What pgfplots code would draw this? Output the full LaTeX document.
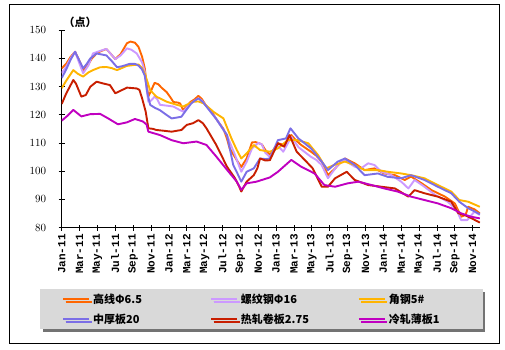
\documentclass[border=0pt]{standalone}
\usepackage{fontspec}
\usepackage{pgfplots}
\pgfplotsset{compat=1.18}
\usetikzlibrary{shadows}
\setmainfont{Liberation Serif}
\newfontfamily\monof{Liberation Mono}
\newfontfamily\cjk{Noto Sans CJK SC}
\definecolor{cOr}{RGB}{255,102,0}
\definecolor{cLp}{RGB}{204,153,255}
\definecolor{cYe}{RGB}{255,180,0}
\definecolor{cBl}{RGB}{123,110,230}
\definecolor{cRd}{RGB}{200,30,0}
\definecolor{cMg}{RGB}{192,0,192}
\definecolor{cLg}{RGB}{217,217,217}
\begin{document}
\begin{tikzpicture}[x=1pt,y=1pt]
\useasboundingbox (0,0) rectangle (505,350);
\draw[line width=1pt] (9.5,6) rectangle (499.3,345);
\begin{axis}[
  at={(61.7pt,122.3pt)}, anchor=south west,
  scale only axis, width=418.3pt, height=197.7pt,
  xmin=0, xmax=46.82, ymin=80, ymax=150,
  axis x line=bottom, axis y line=left,
  axis line style={black, line width=1pt, -},
  xtick={0,2,...,46},
  xticklabels={Jan-11,Mar-11,May-11,Jul-11,Sep-11,Nov-11,Jan-12,Mar-12,May-12,Jul-12,Sep-12,Nov-12,Jan-13,Mar-13,May-13,Jul-13,Sep-13,Nov-13,Jan-14,Mar-14,May-14,Jul-14,Sep-14,Nov-14},
  ytick={80,90,...,150},
  tick align=center, major tick length=6pt,
  tick style={black, line width=0.8pt},
  xticklabel style={rotate=90, anchor=east, font=\monof\bfseries\fontsize{11}{12}\selectfont},
  yticklabel style={font=\monof\bfseries\fontsize{11}{12}\selectfont, xshift=-9pt},
  legend columns=3,
  legend cell align=left,
  legend image code/.code={\draw[#1] (0pt,0pt) -- (26pt,0pt);},
  legend style={at={(-0.0519,-0.310)}, anchor=north west, fill=cLg, draw=none,
    drop shadow={shadow xshift=2.5pt, shadow yshift=-2.5pt, fill=black!55, opacity=1},
    font=\cjk\bfseries\fontsize{11}{13}\selectfont,
    inner xsep=22pt, inner ysep=4.5pt, row sep=9pt,
    nodes={inner sep=0pt}},
  every axis plot/.append style={line width=1.9pt, line join=round},
]
\addplot[cOr] coordinates {(0,136.4)(0.5,138)(1,140.5)(1.5,142.3)(2,139)(2.4,135.8)(2.9,137.5)(3.4,140)(4,142)(5,143.3)(5.5,141.5)(6,139.7)(6.6,141.5)(7.3,145.3)(7.7,145.9)(8.2,145.5)(8.6,144)(9,140.5)(9.3,136.4)(9.5,131)(9.7,126.5)(10,128.5)(10.4,131.3)(10.8,130.8)(11.2,129.5)(11.75,128)(12.2,126)(12.5,124.5)(13,124.3)(13.25,124)(13.6,121.6)(14,123)(14.4,124.5)(14.9,125.5)(15.3,126.7)(15.7,125.5)(16.2,123)(16.8,121)(17.3,118.5)(18.1,115)(18.5,111.5)(18.8,108.1)(19.2,106)(19.6,103.9)(20.1,101.5)(20.7,104.5)(21.3,110.2)(21.7,110.3)(22,110)(22.4,109.5)(22.8,107.5)(23.3,105.8)(24.2,109.9)(24.9,109.3)(25.7,112.8)(26.2,111)(26.8,109.3)(27.9,106.9)(28.5,105.5)(29.1,103.4)(29.8,98.6)(30.6,101)(31.2,103)(31.7,104.5)(32.8,102.8)(33.9,100.4)(35,101)(36.1,99.2)(37.3,98.6)(38.4,96.9)(39.1,98.1)(40.3,95.7)(41.4,93.3)(42.9,91)(44,88.6)(44.4,86)(44.7,83.9)(45.2,84.5)(45.5,87.4)(46.2,86.5)(46.8,85.1)};
\addlegendentry{\makebox[120pt][l]{\hspace{3pt}高线Φ6.5}}
\addplot[cLp] coordinates {(0,134.7)(0.5,137)(1,140)(1.5,142.3)(2,138)(2.4,134.7)(3,137.5)(3.5,141.7)(4.2,142.5)(5,143.3)(5.5,141.5)(6,139.7)(6.6,141)(7.3,143.5)(7.8,143)(8.4,141.7)(9,138.5)(9.3,135.2)(9.5,129)(9.7,124.6)(10,125)(10.4,126.4)(10.7,125.5)(11,123.5)(11.8,123.2)(12.5,122.9)(13.2,121.7)(13.6,121.1)(14,122.5)(14.4,124)(14.9,125)(15.3,125.8)(15.7,125)(16.2,123)(17.3,118.5)(18.5,112.8)(19.4,105.7)(20.1,99.8)(20.7,103.3)(21.3,108.1)(22,110)(22.4,109.5)(22.8,106.5)(23.3,105)(24.1,109.3)(24.8,106.9)(25.7,112.2)(26.5,108.5)(27.9,105.1)(28.5,104)(29.1,102.2)(29.8,97.5)(30.9,102.2)(31.6,104)(32.8,101.6)(33.5,101)(34.3,102.8)(35,102.2)(35.8,99.8)(36.9,98.6)(38,96.3)(38.8,93.9)(39.5,96.9)(40.6,94.5)(41.8,91.6)(43.2,89.2)(44.2,86.3)(44.7,82.7)(45.4,82.7)(46.2,85.7)(46.8,84.5)};
\addlegendentry{\makebox[120pt][l]{\hspace{3pt}螺纹钢Φ16}}
\addplot[cYe] coordinates {(0,129.4)(0.5,132)(1.3,135.8)(1.8,134.5)(2.4,133.5)(3,135)(3.5,135.8)(4.3,136.8)(5,136.9)(5.6,136.5)(6.2,135.8)(7.3,137.3)(8.6,137.8)(9,136.5)(9.3,134.6)(9.9,128.7)(10.6,126.4)(11.75,124.6)(12.9,123.5)(13.6,122.9)(14.7,124.6)(15.3,124.7)(15.9,124)(17,121)(18.1,118.7)(19,111.6)(19.6,107.5)(20.1,104.5)(20.7,106.3)(21.5,109.3)(22.2,107.5)(23.3,106.9)(24.2,108.1)(25.3,111)(26.4,111)(27.6,109.9)(28.7,105.7)(29.6,101)(30.5,102.2)(31.7,103.4)(32.8,102.2)(33.9,100.4)(35.4,100.4)(36.5,99.8)(38,99.2)(39.1,98.6)(40.6,97.5)(42.1,95.1)(43.6,92.8)(44.5,89.8)(45.5,89.2)(46.8,87.4)};
\addlegendentry{\makebox[75pt][l]{\hspace{3pt}角钢5\#}}
\addplot[cBl] coordinates {(0,133)(0.5,136)(1,139.5)(1.5,142.3)(2,139)(2.4,136.4)(2.8,138)(3.2,139.9)(3.9,141.7)(5,141)(5.6,139)(6.2,136.8)(6.8,137.2)(7.6,138)(8.2,138)(8.6,137.4)(9,136)(9.3,133.8)(9.6,127.6)(9.9,123.5)(10.4,122.5)(11,121.6)(11.7,120)(12.3,118.7)(12.9,119)(13.4,119.3)(13.9,121.5)(14.5,124)(14.9,125)(15.3,125.8)(15.8,124.5)(16.2,122.9)(17.3,118.5)(18.5,112.8)(19.2,102.2)(19.7,99)(20.1,96.3)(20.7,99.8)(21.5,101)(22.2,104.5)(22.8,104.3)(23.3,104.5)(24.2,111)(25.1,111.6)(25.6,115.2)(26.5,111.6)(27.9,108.1)(29.1,103.4)(29.8,100.4)(30.9,103.4)(31.7,104.5)(32.8,102.2)(33.9,98.6)(35.4,99.2)(36.5,98)(38,97.5)(39.1,98.6)(40.6,96.9)(42.1,94.5)(43.6,92.2)(44.5,89.2)(45.5,86.9)(46.8,84.8)};
\addlegendentry{\makebox[120pt][l]{\hspace{3pt}中厚板20}}
\addplot[cRd] coordinates {(0,123.8)(0.5,127.5)(1,130.5)(1.3,132.3)(1.6,131)(2.2,126.4)(2.7,127)(3.2,129.9)(3.9,131.7)(4.6,131.1)(5.4,130.5)(6,127.6)(6.6,128.5)(7.3,129.6)(8.4,129.3)(8.7,128.8)(9,125.8)(9.4,121.1)(9.7,115.2)(10.2,115)(10.6,114.6)(11.5,114.3)(12.3,114)(13.4,114.6)(14,116.4)(14.7,117)(15.3,118.1)(15.8,117)(16.2,115.2)(17.3,109.3)(18.5,101.6)(19.4,97.5)(19.8,95)(20.1,92.8)(20.7,96.3)(21.5,98.6)(21.9,101)(22.2,104.5)(22.8,103.8)(23.3,103.9)(24.2,109.9)(24.9,108.7)(25.5,112.8)(26.3,106.9)(27.2,104)(28.1,101)(29.1,94.5)(29.8,94.5)(30.6,97.5)(31.9,99.8)(32.8,96.9)(34.3,95.1)(35.8,94.5)(37.3,93.9)(38.8,91)(39.5,93.3)(40.6,92.2)(42.1,91)(43.6,89.2)(44.4,85.1)(45.1,84.5)(45.9,83.3)(46.8,81.8)};
\addlegendentry{\makebox[120pt][l]{\hspace{3pt}热轧卷板2.75}}
\addplot[cMg] coordinates {(0,117.9)(0.6,119.5)(1.3,121.7)(2.2,119.4)(3.2,120.2)(4.3,120.3)(5.2,118.7)(6.3,116.6)(7.3,117.3)(8.2,118.5)(9.1,117.6)(9.5,116.5)(9.7,114)(11,112.8)(12.3,111)(13.6,109.9)(15.1,110.5)(16.2,109.3)(17.3,105.2)(18.5,100.5)(19.6,96.3)(20.1,93.4)(20.7,95.7)(21.8,96.3)(23.3,97.8)(24.2,99.8)(25.7,104)(26.8,101.6)(28.3,99.2)(29.4,95.1)(30.6,94.5)(32,95.7)(33.2,96.3)(34.7,95.1)(36.1,93.9)(37.6,92.8)(39.1,91)(40.6,89.8)(42.1,88.6)(43.6,86.9)(44.7,85.1)(45.8,83.9)(46.8,83.3)};
\addlegendentry{\makebox[75pt][l]{\hspace{3pt}冷轧薄板1}}
\end{axis}
\node[font=\cjk\bfseries\fontsize{11}{13}\selectfont] at (80,328) {（点）};
\end{tikzpicture}
\end{document}
